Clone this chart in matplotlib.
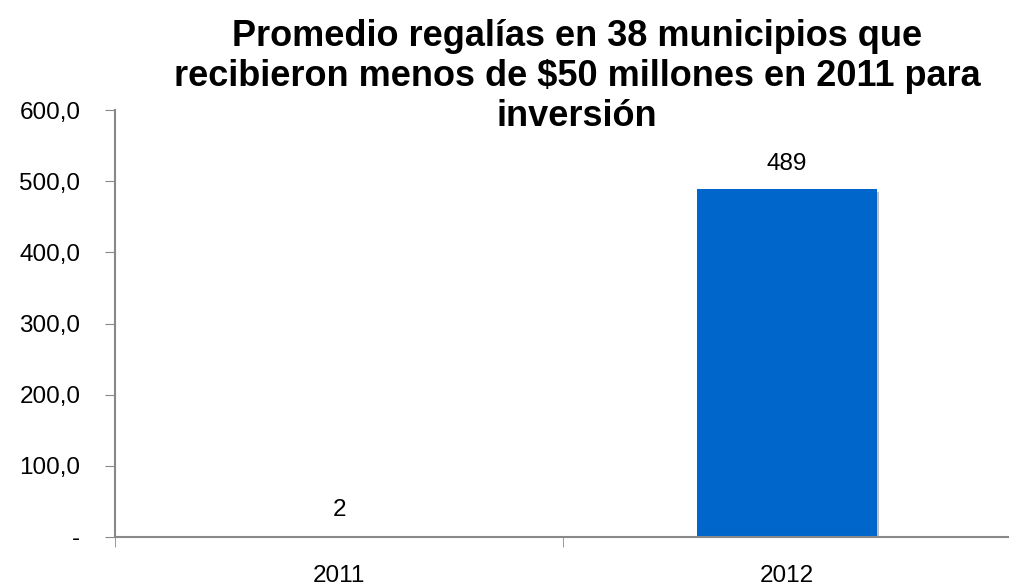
import matplotlib.pyplot as plt
import matplotlib.patheffects as pe
from matplotlib.ticker import FuncFormatter

plt.rcParams['font.family'] = ['Liberation Sans', 'DejaVu Sans']

years = ['2011', '2012']
promedio = [2, 489]
labels = ['2', '489']
colors = ['#ececec', '#0066cc']

fig = plt.figure(figsize=(10.09, 5.88), dpi=100)
ax = fig.add_axes([115 / 1009, 1 - 537 / 588, 896 / 1009, 427 / 588])

bars = ax.bar(years, promedio, width=0.40, color=colors, zorder=3,
              path_effects=[pe.SimplePatchShadow(offset=(1.5, -2), shadow_rgbFace='#999999', alpha=0.6), pe.Normal()])

for b, lab in zip(bars, labels):
    ax.text(b.get_x() + b.get_width() / 2, b.get_height() + 20, lab,
            ha='center', va='bottom', fontsize=17.5)

ax.set_xlim(-0.5, 1.5)
ax.set_ylim(0, 600)
ax.set_yticks(range(0, 601, 100))
ax.yaxis.set_major_formatter(FuncFormatter(lambda v, p: '-' if v == 0 else f'{v:.1f}'.replace('.', ',')))
ax.set_xticks([-0.5, 0.5, 1.5], minor=True)
ax.tick_params(axis='x', which='major', length=0, pad=20, labelsize=17.5)
ax.tick_params(axis='x', which='minor', length=7, color='#888888', direction='out')
ax.tick_params(axis='y', length=7, color='#888888', direction='out', pad=18, labelsize=17.5)

for s in ['top', 'right']:
    ax.spines[s].set_visible(False)
for s in ['left', 'bottom']:
    ax.spines[s].set_color('#888888')
    ax.spines[s].set_linewidth(1.5)
ax.spines['bottom'].set_zorder(4)

fig.text(0.572, 0.967, 'Promedio regalías en 38 municipios que\nrecibieron menos de $50 millones en 2011 para\ninversión',
         ha='center', va='top', fontsize=26, fontweight='bold', linespacing=1.17)

fig.savefig('out.png', dpi=100)
